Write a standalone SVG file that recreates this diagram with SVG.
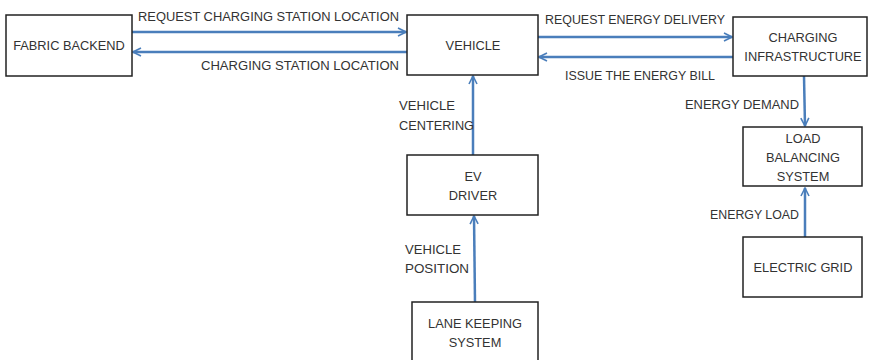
<svg xmlns="http://www.w3.org/2000/svg" width="869" height="360" viewBox="0 0 869 360">
<style>
.box{fill:#fff;stroke:#222;stroke-width:1.5}
.t{font-family:"Liberation Sans",Arial,sans-serif;font-size:12.8px;fill:#333;text-anchor:middle}
.l{font-family:"Liberation Sans",Arial,sans-serif;font-size:12px;fill:#333}
.c{stroke:#4a7ebb;stroke-width:2.5;fill:none;marker-end:url(#ah)}
</style>
<defs>
<marker id="ah" viewBox="0 0 10 10" refX="9" refY="5" markerWidth="4" markerHeight="4" orient="auto" markerUnits="strokeWidth">
<path d="M1,1 L9,5 L1,9" fill="none" stroke="#4a7ebb" stroke-width="1.6"/>
</marker>
</defs>
<rect width="869" height="360" fill="#fff"/>
<g id="connectors">
<line class="c" x1="132" y1="32" x2="406" y2="32"/>
<line class="c" x1="407" y1="52" x2="133" y2="52"/>
<line class="c" x1="538" y1="37" x2="732" y2="37"/>
<line class="c" x1="733" y1="57" x2="539" y2="57"/>
<line class="c" x1="804" y1="76" x2="805" y2="126"/>
<line class="c" x1="473" y1="155" x2="473" y2="76"/>
<line class="c" x1="475" y1="302" x2="474" y2="216"/>
<line class="c" x1="805" y1="237" x2="805" y2="188"/>
<text class="l" x="138" y="21" textLength="261" lengthAdjust="spacingAndGlyphs">REQUEST CHARGING STATION LOCATION</text>
<text class="l" x="201" y="70" textLength="198" lengthAdjust="spacingAndGlyphs">CHARGING STATION LOCATION</text>
<text class="l" x="545" y="24" textLength="180" lengthAdjust="spacingAndGlyphs">REQUEST ENERGY DELIVERY</text>
<text class="l" x="565" y="80" textLength="150" lengthAdjust="spacingAndGlyphs">ISSUE THE ENERGY BILL</text>
<text class="l" x="399" y="110" textLength="56" lengthAdjust="spacingAndGlyphs">VEHICLE</text>
<text class="l" x="399" y="130" textLength="75" lengthAdjust="spacingAndGlyphs">CENTERING</text>
<text class="l" x="405" y="254" textLength="56" lengthAdjust="spacingAndGlyphs">VEHICLE</text>
<text class="l" x="405" y="273" textLength="64" lengthAdjust="spacingAndGlyphs">POSITION</text>
<text class="l" x="685" y="109" textLength="114" lengthAdjust="spacingAndGlyphs">ENERGY DEMAND</text>
<text class="l" x="710" y="219" textLength="89" lengthAdjust="spacingAndGlyphs">ENERGY LOAD</text>
</g>
<g id="fabric-backend">
<rect class="box" x="6" y="15" width="126" height="61"/>
<text class="t" x="69" y="50">FABRIC BACKEND</text>
</g>
<g id="vehicle">
<rect class="box" x="407" y="15" width="131" height="60"/>
<text class="t" x="473" y="50">VEHICLE</text>
</g>
<g id="charging-infrastructure">
<rect class="box" x="733" y="17" width="134" height="59"/>
<text class="t" x="803" y="42">CHARGING</text>
<text class="t" x="803" y="61">INFRASTRUCTURE</text>
</g>
<g id="load-balancing">
<rect class="box" x="743" y="127" width="119" height="59"/>
<text class="t" x="803" y="143">LOAD</text>
<text class="t" x="803" y="162">BALANCING</text>
<text class="t" x="803" y="181">SYSTEM</text>
</g>
<g id="electric-grid">
<rect class="box" x="743" y="237" width="119" height="60"/>
<text class="t" x="803" y="272">ELECTRIC GRID</text>
</g>
<g id="ev-driver">
<rect class="box" x="407" y="155" width="131" height="60"/>
<text class="t" x="473" y="181">EV</text>
<text class="t" x="473" y="200">DRIVER</text>
</g>
<g id="lane-keeping">
<rect class="box" x="412" y="302" width="126" height="70"/>
<text class="t" x="475" y="328">LANE KEEPING</text>
<text class="t" x="475" y="347">SYSTEM</text>
</g>
</svg>
